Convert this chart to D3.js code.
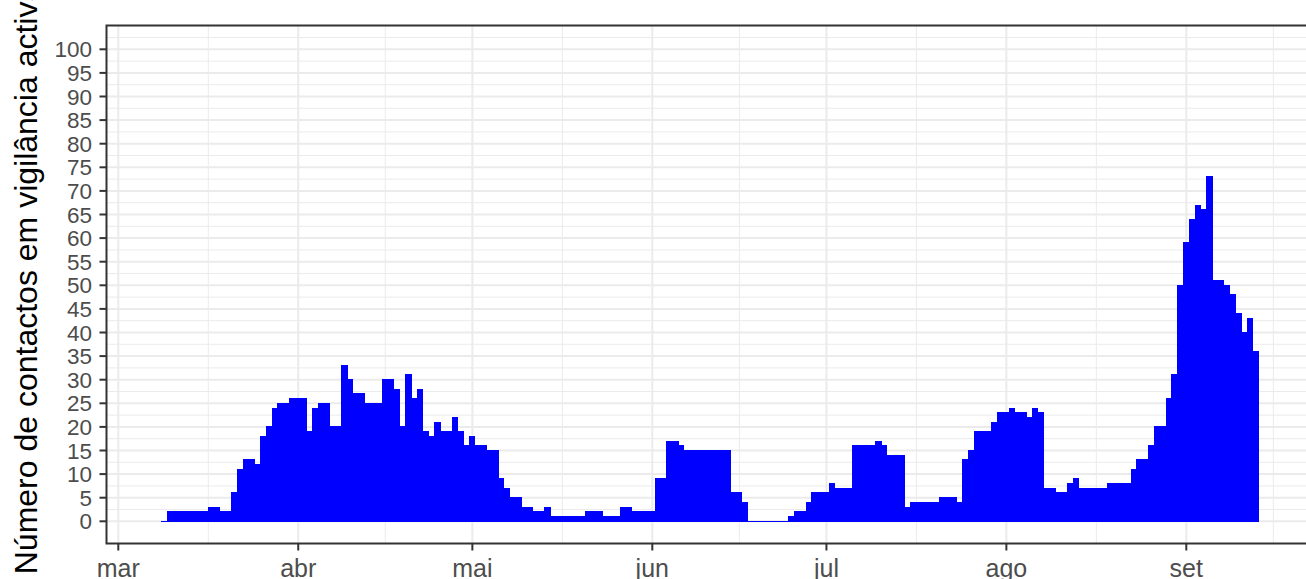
<!DOCTYPE html>
<html lang="pt">
  <head>
    <meta charset="UTF-8" />
    <script src="https://d3js.org/d3.v7.min.js"></script>
    <title>Contactos em vigilância activa</title>
    <style>
      body { margin: 0; background: #fff; }
      svg { display: block; font-family: "Liberation Sans", Arial, sans-serif; }
    </style>
  </head>
  <body>
    <svg id="chart" width="1306" height="579"></svg>
    <script>
      // contactos diários, a partir de 8 de março
      const firstDay = "2020-03-08";
      const contactos = [
        0, 2, 2, 2, 2, 2, 2, 2, 3, 3, 2, 2, 6, 11, 13, 13, 12, 18, 20, 24,
        25, 25, 26, 26, 26, 19, 24, 25, 25, 20, 20, 33, 30, 27, 27, 25, 25, 25, 30, 30,
        28, 20, 31, 26, 28, 19, 18, 21, 19, 19, 22, 19, 16, 18, 16, 16, 15, 15, 9, 7,
        5, 5, 3, 3, 2, 2, 3, 1, 1, 1, 1, 1, 1, 2, 2, 2, 1, 1, 1, 3,
        3, 2, 2, 2, 2, 9, 9, 17, 17, 16, 15, 15, 15, 15, 15, 15, 15, 15, 6, 6,
        4, 0, 0, 0, 0, 0, 0, 0, 1, 2, 2, 4, 6, 6, 6, 8, 7, 7, 7, 16,
        16, 16, 16, 17, 16, 14, 14, 14, 3, 4, 4, 4, 4, 4, 5, 5, 5, 4, 13, 15,
        19, 19, 19, 21, 23, 23, 24, 23, 23, 22, 24, 23, 7, 7, 6, 6, 8, 9, 7, 7,
        7, 7, 7, 8, 8, 8, 8, 11, 13, 13, 16, 20, 20, 26, 31, 50, 59, 64, 67, 66,
        73, 51, 51, 50, 48, 44, 40, 43, 36
      ];

      const monthTicks = ["2020-03-01", "2020-04-01", "2020-05-01", "2020-06-01", "2020-07-01", "2020-08-01", "2020-09-01"];
      const monthLabels = ["mar", "abr", "mai", "jun", "jul", "ago", "set"];
      const minorTicks = ["2020-03-16T12:00", "2020-04-16", "2020-05-16T12:00", "2020-06-16", "2020-07-16T12:00", "2020-08-16T12:00", "2020-09-16"];
      const yTicks = d3.range(0, 101, 5);
      const yMinor = d3.range(2.5, 105, 5);

      const parse = d3.isoParse;
      const start = parse(firstDay);
      const data = contactos.map((v, i) => ({ date: d3.timeDay.offset(start, i), value: v }));

      const svg = d3.select("#chart");
      const panel = { left: 106.5, top: 25.5, right: 1312, bottom: 543.5 };

      // escalas: 1 mar -> 118.3, 1 set -> 1186.3
      const x = d3.scaleTime()
        .domain([parse(monthTicks[0]), parse(monthTicks[6])])
        .range([118.3, 1186.3]);
      const y = d3.scaleLinear().domain([0, 100]).range([521.3, 49.3]);

      const grid = svg.append("g");
      grid.selectAll("line.ymin").data(yMinor).join("line")
        .attr("x1", panel.left).attr("x2", panel.right)
        .attr("y1", d => y(d)).attr("y2", d => y(d))
        .attr("stroke", "#ebebeb").attr("stroke-width", 1);
      grid.selectAll("line.xmin").data(minorTicks).join("line")
        .attr("x1", d => x(parse(d))).attr("x2", d => x(parse(d)))
        .attr("y1", panel.top).attr("y2", panel.bottom)
        .attr("stroke", "#ebebeb").attr("stroke-width", 1);
      grid.selectAll("line.ymaj").data(yTicks).join("line")
        .attr("x1", panel.left).attr("x2", panel.right)
        .attr("y1", d => y(d)).attr("y2", d => y(d))
        .attr("stroke", "#ebebeb").attr("stroke-width", 2);
      grid.selectAll("line.xmaj").data(monthTicks).join("line")
        .attr("x1", d => x(parse(d))).attr("x2", d => x(parse(d)))
        .attr("y1", panel.top).attr("y2", panel.bottom)
        .attr("stroke", "#ebebeb").attr("stroke-width", 2);

      // barras (ligeiramente deslocadas como no original); +1px como o contorno
      const shift = d => d3.timeHour.offset(d, 10);
      svg.append("g")
        .attr("shape-rendering", "crispEdges")
        .selectAll("rect").data(data).join("rect")
        .attr("x", d => x(shift(d.date)))
        .attr("width", d => x(shift(d3.timeDay.offset(d.date, 1))) - x(shift(d.date)) + 0.6)
        .attr("y", d => y(d.value) - 0.5)
        .attr("height", d => y(0) - y(d.value) + 1)
        .attr("fill", "#0000ff");

      // moldura do painel
      svg.append("rect")
        .attr("x", panel.left).attr("y", panel.top)
        .attr("width", panel.right - panel.left).attr("height", panel.bottom - panel.top)
        .attr("fill", "none").attr("stroke", "#333333").attr("stroke-width", 2);

      // eixo y
      const yAxis = svg.append("g");
      yAxis.selectAll("line").data(yTicks).join("line")
        .attr("x1", panel.left - 7).attr("x2", panel.left)
        .attr("y1", d => y(d)).attr("y2", d => y(d))
        .attr("stroke", "#333333").attr("stroke-width", 2);
      yAxis.selectAll("text").data(yTicks).join("text")
        .attr("x", 92).attr("y", d => y(d))
        .attr("dy", "0.36em")
        .attr("text-anchor", "end")
        .attr("fill", "#4d4d4d")
        .style("font-size", "22.5px")
        .text(d => d);

      // eixo x
      const xAxis = svg.append("g");
      xAxis.selectAll("line").data(monthTicks).join("line")
        .attr("x1", d => x(parse(d))).attr("x2", d => x(parse(d)))
        .attr("y1", panel.bottom).attr("y2", panel.bottom + 7)
        .attr("stroke", "#333333").attr("stroke-width", 2);
      xAxis.selectAll("text").data(monthTicks).join("text")
        .attr("x", d => x(parse(d))).attr("y", 577)
        .attr("text-anchor", "middle")
        .attr("fill", "#4d4d4d")
        .style("font-size", "25px")
        .text((d, i) => monthLabels[i]);

      svg.append("text")
        .attr("transform", "translate(37,279) rotate(-90)")
        .attr("text-anchor", "middle")
        .attr("fill", "#000")
        .style("font-size", "32px")
        .text("Número de contactos em vigilância activa");
    </script>
  </body>
</html>
